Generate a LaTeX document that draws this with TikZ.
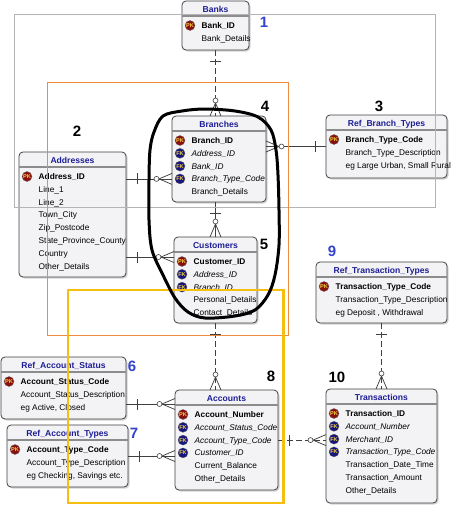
\documentclass[tikz,border=0pt]{standalone}
\usepackage{fontspec}
\setmainfont{Liberation Sans}
\usetikzlibrary{decorations.markings,shadows}
\definecolor{ttl}{HTML}{1E1E96}
\definecolor{pkc}{HTML}{8A1010}
\definecolor{fkc}{HTML}{16167E}
\definecolor{icn}{HTML}{F2D040}
\definecolor{bx}{HTML}{F3F3F6}
\definecolor{nb}{HTML}{3344CC}
\definecolor{orng}{HTML}{F08A3C}
\definecolor{ylw}{HTML}{F5BE10}
\definecolor{gfr}{HTML}{B4B4B4}
\definecolor{ln}{HTML}{404040}
\newcommand\erfont{\fontsize{8.3}{10}\selectfont}
\newcommand\erent[6]{%
  \node[entbox, minimum width=#4pt, minimum height=#5pt, anchor=north west] (#1) at (#2,#3) {};
  \draw[sepline] ([yshift=-15pt]#1.north west) -- ([yshift=-15pt]#1.north east);
  \node[enttitle] (#1-t) at ([yshift=-8.5pt]#1.north) {#6};}
\newcommand\erpk[3]{%
  \node[rowtxt, font=\erfont\bfseries] (#1-#2) at ([xshift=19.5pt, yshift={-24.5-12.8*(#2-1)}]#1.north west) {#3};
  \node[keyicon, fill=pkc] (#1-#2k) at ([xshift=-11.5pt]#1-#2.west) {PK};}
\newcommand\erfk[3]{%
  \node[rowtxt, font=\erfont\itshape] (#1-#2) at ([xshift=19.5pt, yshift={-24.5-12.8*(#2-1)}]#1.north west) {#3};
  \node[keyicon, fill=fkc] (#1-#2k) at ([xshift=-11.5pt]#1-#2.west) {FK};}
\newcommand\erpl[3]{%
  \node[rowtxt, font=\erfont] (#1-#2) at ([xshift=19.5pt, yshift={-24.5-12.8*(#2-1)}]#1.north west) {#3};}
\begin{document}
\begin{tikzpicture}[x=1pt, y=-1pt,
  entbox/.style={draw=black!75, line width=0.8pt, rounded corners=4pt, fill=bx,
    inner sep=0pt, outer sep=0pt,
    drop shadow={shadow xshift=1.5pt, shadow yshift=-1.5pt, fill=black!35}},
  sepline/.style={draw=black!45, line width=1.6pt},
  enttitle/.style={inner sep=0pt, text height=6pt, text depth=0pt, text=ttl,
    font=\fontsize{8.6}{10}\selectfont\bfseries},
  rowtxt/.style={anchor=west, inner sep=0pt, text height=6pt, text depth=0pt, text=black},
  keyicon/.style={circle, inner sep=0pt, minimum size=10pt, text=icn, draw=black!60, line width=0.3pt,
    font=\fontsize{5.6}{6}\selectfont\bfseries},
  rel/.style={draw=ln, line width=0.7pt},
  reld/.style={rel, dash pattern=on 6pt off 3pt},
  onemany/.style={postaction={decorate, decoration={markings,
    mark=at position 11pt with {\draw[solid, ln, line width=0.8pt] (0,-5.5pt) -- (0,5.5pt);},
    mark=at position -15.5pt with {\draw[solid, ln, fill=white, line width=0.6pt] (0,0) circle (2.5pt);},
    mark=at position -13pt with {\draw[solid, ln, line width=0.75pt] (0,0) -- (13pt,5.5pt) (0,0) -- (13pt,-5.5pt);}}}},
  numlab/.style={inner sep=0pt, text height=10.7pt, text depth=0pt,
    font=\fontsize{15}{15}\selectfont\bfseries}]
\useasboundingbox (0,0) rectangle (452,507);
\fill[white] (0,0) rectangle (452,507);

% entities
\erent{bank}{182}{1}{67}{49}{Banks}
\erpk{bank}{1}{Bank\_ID}
\erpl{bank}{2}{Bank\_Details}

\erent{br}{172}{116}{94}{86}{Branches}
\erpk{br}{1}{Branch\_ID}
\erfk{br}{2}{Address\_ID}
\erfk{br}{3}{Bank\_ID}
\erfk{br}{4}{Branch\_Type\_Code}
\erpl{br}{5}{Branch\_Details}

\erent{addr}{19}{152}{107}{125}{Addresses}
\erpk{addr}{1}{Address\_ID}
\erpl{addr}{2}{Line\_1}
\erpl{addr}{3}{Line\_2}
\erpl{addr}{4}{Town\_City}
\erpl{addr}{5}{Zip\_Postcode}
\erpl{addr}{6}{State\_Province\_County}
\erpl{addr}{7}{Country}
\erpl{addr}{8}{Other\_Details}

\erent{rbt}{326}{115}{121}{63}{Ref\_Branch\_Types}
\erpk{rbt}{1}{Branch\_Type\_Code}
\erpl{rbt}{2}{Branch\_Type\_Description}
\erpl{rbt}{3}{eg Large Urban, Small Rural}

\erent{cust}{174}{237}{83}{86}{Customers}
\erpk{cust}{1}{Customer\_ID}
\erfk{cust}{2}{Address\_ID}
\erfk{cust}{3}{Branch\_ID}
\erpl{cust}{4}{Personal\_Details}
\erpl{cust}{5}{Contact\_Details}

\erent{rtt}{316}{262}{131}{61}{Ref\_Transaction\_Types}
\erpk{rtt}{1}{Transaction\_Type\_Code}
\erpl{rtt}{2}{Transaction\_Type\_Description}
\erpl{rtt}{3}{eg Deposit , Withdrawal}

\erent{ras}{1}{357}{125}{62}{Ref\_Account\_Status}
\erpk{ras}{1}{Account\_Status\_Code}
\erpl{ras}{2}{Account\_Status\_Description}
\erpl{ras}{3}{eg Active, Closed}

\erent{rat}{7}{425}{121}{62}{Ref\_Account\_Types}
\erpk{rat}{1}{Account\_Type\_Code}
\erpl{rat}{2}{Account\_Type\_Description}
\erpl{rat}{3}{eg Checking, Savings etc.}

\erent{acc}{175}{390}{103}{100}{Accounts}
\erpk{acc}{1}{Account\_Number}
\erfk{acc}{2}{Account\_Status\_Code}
\erfk{acc}{3}{Account\_Type\_Code}
\erfk{acc}{4}{Customer\_ID}
\erpl{acc}{5}{Current\_Balance}
\erpl{acc}{6}{Other\_Details}

\erent{tr}{326}{389}{111}{114}{Transactions}
\erpk{tr}{1}{Transaction\_ID}
\erfk{tr}{2}{Account\_Number}
\erfk{tr}{3}{Merchant\_ID}
\erfk{tr}{4}{Transaction\_Type\_Code}
\erpl{tr}{5}{Transaction\_Date\_Time}
\erpl{tr}{6}{Transaction\_Amount}
\erpl{tr}{7}{Other\_Details}

% relationships
\draw[reld, onemany] (bank.south) -- (bank.south |- br.north);
\draw[rel, onemany] (rbt.west) -- (rbt.west -| br.east);
\draw[rel, onemany] (addr.east |- br-4.west) -- (br.west |- br-4.west);
\draw[rel, onemany] (addr.east |- 0,257) -- (cust.west |- 0,257);
\draw[rel, onemany] (cust.north |- br.south) -- (cust.north);
\draw[reld, onemany] (cust.south) -- (cust.south |- acc.north);
\draw[rel, onemany] (ras.east |- 0,404) -- (acc.west |- 0,404);
\draw[rel, onemany] (rat.east) -- (rat.east -| acc.west);
\draw[reld, onemany] (acc.east |- acc-3.west) -- (tr.west |- acc-3.west);
\draw[reld, onemany] (rtt.south) -- (tr.north);

% frames
\draw[gfr, line width=0.7pt] (14,14) rectangle (435,207);
\draw[orng, line width=0.9pt] (47.5,82) rectangle (288.5,335);
\draw[ylw, line width=2.6pt] (68,290) rectangle (283.5,503);

% hand-drawn loop
\draw[black, line width=3pt, line join=round] plot[smooth cycle, tension=0.55] coordinates {
  (163,116) (182,111) (205,109) (235,111) (258,117) (271,130) (276,150) (278,175)
  (279,210) (279,245) (275,275) (268,295) (255,310) (235,316) (205,318) (188,312)
  (175,298) (163,275) (152,250) (149,220) (149,180) (150,150) (154,132)};

% numbers
\node[numlab, text=nb] (n1) at (264,22) {1};
\node[numlab] (n4) at (265,106) {4};
\node[numlab] (n3) at (379,106) {3};
\node[numlab] (n2) at (77,131) {2};
\node[numlab] (n5) at (264,244) {5};
\node[numlab, text=nb] (n9) at (332,251) {9};
\node[numlab, text=nb] (n6) at (132,366) {6};
\node[numlab, text=nb] (n7) at (134,433) {7};
\node[numlab] (n8) at (271,376) {8};
\node[numlab] (n10) at (337,377) {10};
\end{tikzpicture}
\end{document}
